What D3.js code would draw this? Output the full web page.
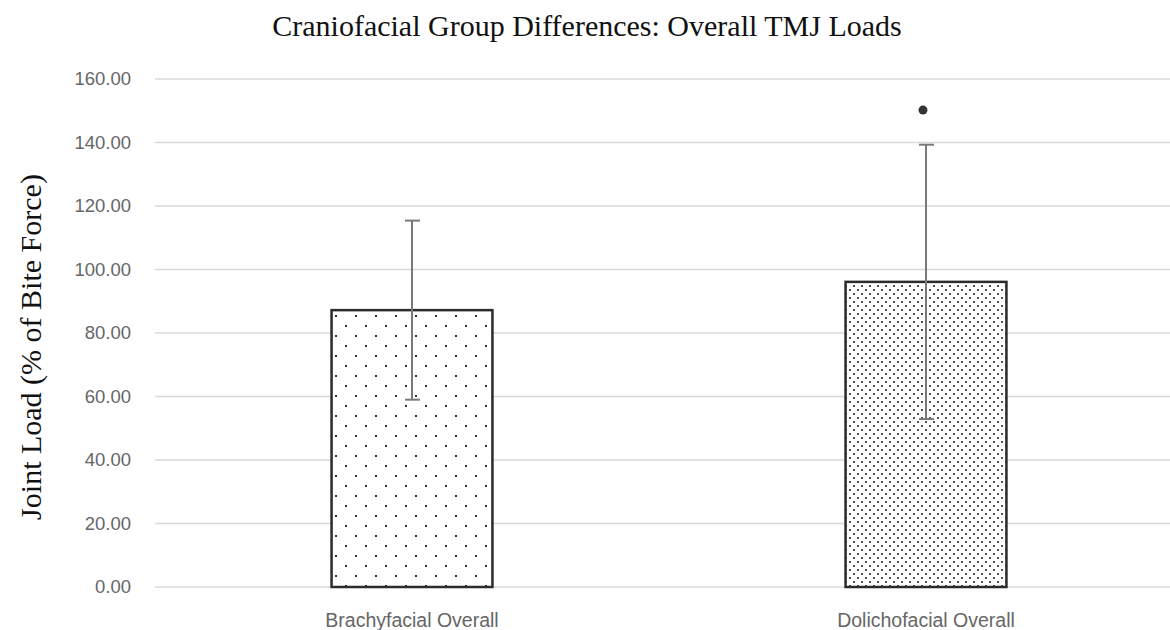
<!DOCTYPE html>
<html>
  <head>
    <meta charset="UTF-8">
    <title>Craniofacial Group Differences</title>
    <script src="https://d3js.org/d3.v7.min.js"></script>
    <style>
      body { margin: 0; background: #fff; }
    </style>
  </head>
  <body>
    <div id="chart"></div>
    <script>
      // data
      const categories = ["Brachyfacial Overall", "Dolichofacial Overall"];
      const means = [87.2, 96.1];
      const errors = [28.2, 43.2];
      const outliers = [null, 150.2];
      const yTicks = [0, 20, 40, 60, 80, 100, 120, 140, 160];

      const width = 1170;
      const height = 630;
      const margin = { top: 79, left: 155, bottom: 43 };
      const plotRight = 1183; // gridlines run past the picture edge

      const svg = d3.select("#chart")
        .append("svg")
        .attr("width", width)
        .attr("height", height);

      // fill patterns
      const defs = svg.append("defs");
      const sparse = defs.append("pattern")
        .attr("id", "dots-sparse")
        .attr("patternUnits", "userSpaceOnUse")
        .attr("width", 20).attr("height", 20);
      sparse.append("rect").attr("width", 20).attr("height", 20).attr("fill", "#fff");
      [[5, 5], [15, 15]].forEach(p => {
        sparse.append("rect").attr("x", p[0]).attr("y", p[1])
          .attr("width", 2).attr("height", 2).attr("fill", "#333");
      });

      const dense = defs.append("pattern")
        .attr("id", "dots-dense")
        .attr("patternUnits", "userSpaceOnUse")
        .attr("width", 8).attr("height", 8);
      dense.append("rect").attr("width", 8).attr("height", 8).attr("fill", "#fff");
      [[1, 1], [5, 5]].forEach(p => {
        dense.append("rect").attr("x", p[0]).attr("y", p[1])
          .attr("width", 2).attr("height", 2).attr("fill", "#555");
      });

      const x = d3.scaleBand()
        .domain(categories)
        .range([margin.left, plotRight])
        .paddingInner(0.687)
        .paddingOuter(0.3435);

      const y = d3.scaleLinear()
        .domain([0, 160])
        .range([height - margin.bottom, margin.top]);

      // gridlines
      svg.append("g")
        .selectAll("line")
        .data(yTicks)
        .enter()
        .append("line")
        .attr("x1", margin.left)
        .attr("x2", plotRight)
        .attr("y1", d => y(d))
        .attr("y2", d => y(d))
        .attr("stroke", "#d9d9d9")
        .attr("stroke-width", 1.5);

      // y tick labels
      svg.append("g")
        .selectAll("text")
        .data(yTicks)
        .enter()
        .append("text")
        .attr("x", 131)
        .attr("y", d => y(d))
        .attr("dy", "0.35em")
        .attr("text-anchor", "end")
        .attr("font-family", "Liberation Sans, Arial, sans-serif")
        .attr("font-size", 18.5)
        .attr("fill", "#666")
        .text(d => d3.format(".2f")(d));

      // bars
      svg.append("g")
        .selectAll("rect")
        .data(categories)
        .enter()
        .append("rect")
        .attr("x", d => x(d))
        .attr("y", (d, i) => y(means[i]))
        .attr("width", x.bandwidth())
        .attr("height", (d, i) => y(0) - y(means[i]))
        .attr("fill", (d, i) => i === 0 ? "url(#dots-sparse)" : "url(#dots-dense)")
        .attr("stroke", "#2b2b2b")
        .attr("stroke-width", 2.5);

      // error bars
      const err = svg.append("g")
        .attr("stroke", "#7a7a7a")
        .attr("stroke-width", 2);
      categories.forEach((c, i) => {
        const cx = x(c) + x.bandwidth() / 2;
        const hi = y(means[i] + errors[i]);
        const lo = y(means[i] - errors[i]);
        err.append("line").attr("x1", cx).attr("x2", cx).attr("y1", hi).attr("y2", lo);
        err.append("line").attr("x1", cx - 7).attr("x2", cx + 8).attr("y1", hi).attr("y2", hi);
        err.append("line").attr("x1", cx - 7).attr("x2", cx + 8).attr("y1", lo).attr("y2", lo);
      });

      // outlier marker
      svg.append("g")
        .selectAll("circle")
        .data(categories.filter((c, i) => outliers[i] !== null))
        .enter()
        .append("circle")
        .attr("cx", d => x(d) + x.bandwidth() / 2 - 3)
        .attr("cy", d => y(outliers[categories.indexOf(d)]))
        .attr("r", 4.5)
        .attr("fill", "#333");

      // x labels
      svg.append("g")
        .selectAll("text")
        .data(categories)
        .enter()
        .append("text")
        .attr("x", d => x(d) + x.bandwidth() / 2)
        .attr("y", 627)
        .attr("text-anchor", "middle")
        .attr("font-family", "Liberation Sans, Arial, sans-serif")
        .attr("font-size", 19.5)
        .attr("fill", "#666")
        .text(d => d);

      // title
      svg.append("text")
        .attr("x", 587)
        .attr("y", 36)
        .attr("text-anchor", "middle")
        .attr("font-family", "Liberation Serif, Times New Roman, serif")
        .attr("font-size", 30)
        .attr("fill", "#111")
        .text("Craniofacial Group Differences: Overall TMJ Loads");

      // y axis title
      svg.append("text")
        .attr("transform", "translate(41," + 347 + ") rotate(-90)")
        .attr("text-anchor", "middle")
        .attr("font-family", "Liberation Serif, Times New Roman, serif")
        .attr("font-size", 30)
        .attr("fill", "#111")
        .text("Joint Load (% of Bite Force)");
    </script>
  </body>
</html>
